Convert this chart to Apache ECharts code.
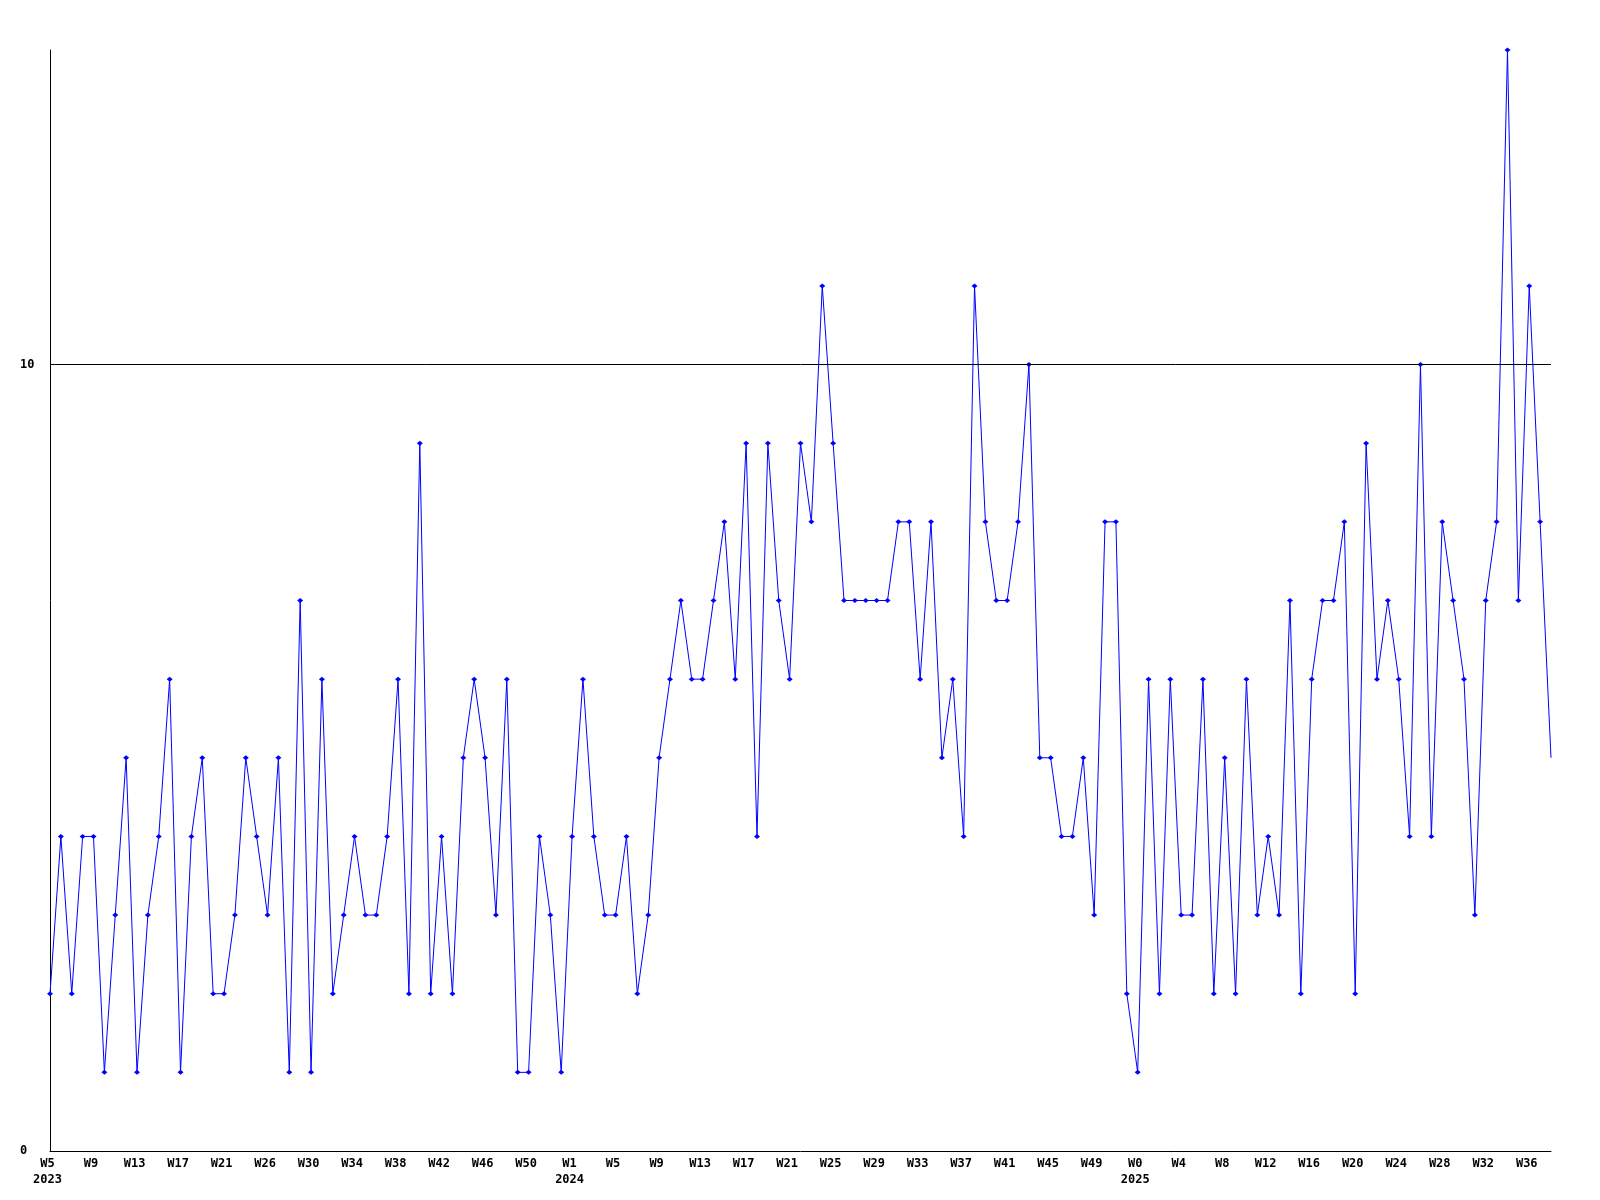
<!DOCTYPE html>
<html>
<head>
<meta charset="utf-8">
<script src="https://cdn.jsdelivr.net/npm/echarts@6/dist/echarts.min.js"></script>
<style>
  html, body { margin: 0; padding: 0; background: #ffffff; }
  #chart { width: 1600px; height: 1200px; }
</style>
</head>
<body>
<div id="chart"></div>
<script>
// Week segments: [year, firstWeek, lastWeek] (one week missing in mid-2023)
const weekSegments = [
  [2023, 5, 24],
  [2023, 26, 52],
  [2024, 0, 52],
  [2025, 0, 38]
];

// Weekly values
const values = [
  2, 4, 2, 4, 4, 1, 3, 5, 1, 3,
  4, 6, 1, 4, 5, 2, 2, 3, 5, 4,
  3, 5, 1, 7, 1, 6, 2, 3, 4, 3,
  3, 4, 6, 2, 9, 2, 4, 2, 5, 6,
  5, 3, 6, 1, 1, 4, 3, 1, 4, 6,
  4, 3, 3, 4, 2, 3, 5, 6, 7, 6,
  6, 7, 8, 6, 9, 4, 9, 7, 6, 9,
  8, 11, 9, 7, 7, 7, 7, 7, 8, 8,
  6, 8, 5, 6, 4, 11, 8, 7, 7, 8,
  10, 5, 5, 4, 4, 5, 3, 8, 8, 2,
  1, 6, 2, 6, 3, 3, 6, 2, 5, 2,
  6, 3, 4, 3, 7, 2, 6, 7, 7, 8,
  2, 9, 6, 7, 6, 4, 10, 4, 8, 7,
  6, 3, 7, 8, 14, 7, 11, 8, 5
];

const referenceLevel = 10;
const yTickLabels = [0, 10];
const labelEvery = 4;

// Build categories from the segments
const weeks = [];
const years = [];
weekSegments.forEach(([y, a, b]) => {
  for (let w = a; w <= b; w++) { weeks.push(w); years.push(y); }
});
const categories = weeks.map((w, i) => years[i] + '-W' + w);

const chart = echarts.init(document.getElementById('chart'), null, { renderer: 'canvas' });
const font = 'DejaVu Sans Mono';

chart.setOption({
  animation: false,
  backgroundColor: '#ffffff',
  grid: { left: 50, right: 49, top: 50, bottom: 49, containLabel: false },
  xAxis: {
    type: 'category',
    data: categories,
    boundaryGap: false,
    axisLine: { show: true, lineStyle: { color: '#000000', width: 1 } },
    axisTick: { show: false },
    splitLine: { show: false },
    axisLabel: {
      interval: labelEvery - 1,
      margin: 5,
      color: '#000000',
      fontFamily: font,
      fontWeight: 'bold',
      fontSize: 12,
      lineHeight: 16,
      padding: [0, 5, 0, 0],
      formatter: function (value, index) {
        const w = weeks[index];
        const y = years[index];
        const prevShown = index - labelEvery;
        const firstOfYear = prevShown < 0 || years[prevShown] !== y;
        return 'W' + w + (firstOfYear ? '\n' + y : '');
      }
    }
  },
  yAxis: {
    type: 'value',
    min: 0,
    max: 14,
    interval: 10,
    axisLine: { show: true, lineStyle: { color: '#000000', width: 1 } },
    axisTick: { show: false },
    splitLine: { show: false },
    axisLabel: {
      showMaxLabel: false,
      align: 'left',
      margin: 30,
      color: '#000000',
      fontFamily: font,
      fontWeight: 'bold',
      fontSize: 12,
      formatter: function (v) { return yTickLabels.indexOf(v) >= 0 ? String(v) : ''; }
    }
  },
  series: [{
    type: 'line',
    data: values,
    symbol: function (value, params) {
      return params.dataIndex === values.length - 1 ? 'none' : 'diamond';
    },
    symbolSize: [6, 5],
    showAllSymbol: true,
    itemStyle: { color: '#0000ff' },
    lineStyle: { color: '#0000ff', width: 1 },
    clip: false,
    markLine: {
      silent: true,
      symbol: ['none', 'none'],
      label: { show: false },
      lineStyle: { color: '#000000', type: 'solid', width: 1 },
      data: [{ yAxis: referenceLevel }]
    },
    z: 3
  }]
});
</script>
</body>
</html>
